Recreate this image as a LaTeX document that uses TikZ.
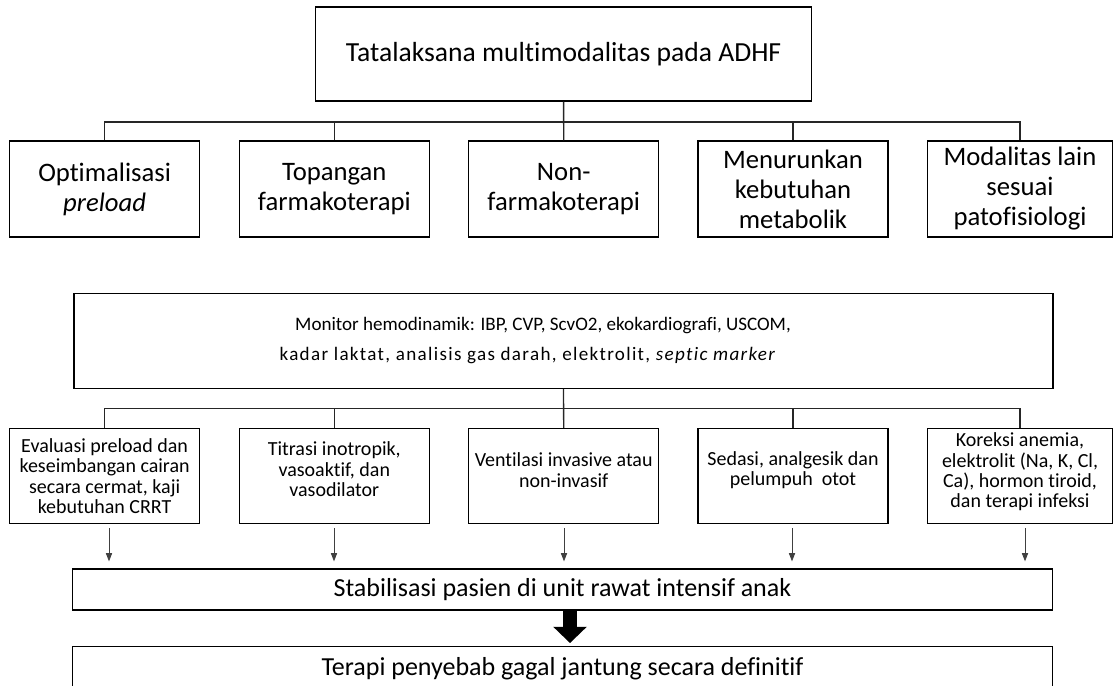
\documentclass[tikz,border=0pt]{standalone}
\usepackage{fontspec}
\setmainfont{Carlito}[Ligatures=NoCommon]
\newfontfamily\trackedfont{Carlito}[Ligatures=NoCommon, LetterSpace=7]
\usetikzlibrary{arrows.meta,calc}
\begin{document}
\begin{tikzpicture}[x=0.75pt,y=-0.75pt,
  box/.style={draw=black, line width=1pt, inner sep=0pt, align=center},
  headbox/.style={box, minimum width=372pt, minimum height=70.5pt, font=\fontsize{20.7}{24}\selectfont},
  catbox/.style={box, minimum width=142.5pt, minimum height=72pt, font=\fontsize{20}{22.5}\selectfont},
  actbox/.style={box, minimum width=142.5pt, minimum height=71.1pt},
  acttext/.style={inner sep=0pt, align=center, font=\fontsize{15}{15.2}\selectfont},
  widebox/.style={box, minimum width=734.7pt, font=\fontsize{19.5}{23}\selectfont},
  link/.style={draw=black!85, line width=1pt},
  thinarrow/.style={draw=black!75, line width=0.6pt, -{Triangle[width=4.7pt,length=6.2pt]}, shorten <=3pt, shorten >=5.25pt},
  bigarrow/.style={draw=black, line width=10pt, -{Triangle[width=24.5pt,length=12.2pt]}, shorten >=2pt}
]
\clip (0,0) rectangle (1113,685);

% title
\node[headbox] (top) at (563.6,54) {Tatalaksana multimodalitas pada ADHF};

% first row: treatment categories
\node[catbox] (k1) at (104.6,189) {Optimalisasi\\\textit{preload}};
\node[catbox] (k2) at (334.3,189) {Topangan\\farmakoterapi};
\node[catbox] (k3) at (563.7,189) {Non-\\farmakoterapi};
\node[catbox] (k4) at (793,189) {Menurunkan\\kebutuhan\\metabolik};
\node[catbox, minimum width=138.5pt] (k5) at (1020,189) {Modalitas lain\\sesuai\\patofisiologi};

\coordinate (bar1) at (0,122);
\draw[link] (top.south) -- (k3.north);
\draw[link] (k1.north) -- (k1.north |- bar1) -- (k5.north |- bar1) -- (k5.north);
\draw[link] (k2.north) -- (k2.north |- bar1);
\draw[link] (k4.north) -- (k4.north |- bar1);

% monitoring
\node[box, minimum width=734.25pt, minimum height=71.25pt, font=\fontsize{14.3}{22.5}\selectfont] (mon) at (563.5,340.8)
  {Monitor hemodinamik: IBP, CVP, ScvO2, ekokardiografi, USCOM,\hspace*{30.75pt}\\
   {\trackedfont kadar laktat, analisis gas darah, elektrolit, \textit{septic marker}}\hspace*{53.25pt}};

% second row: actions
\node[actbox] (a1) at (104.6,476) {};
\node[actbox] (a2) at (334.3,476) {};
\node[actbox] (a3) at (563.7,476) {};
\node[actbox] (a4) at (793,476) {};
\node[actbox, minimum width=138.5pt] (a5) at (1020,476) {};
\node[acttext] (t1) at ([yshift=0pt]a1.center) {Evaluasi preload dan\\keseimbangan cairan\\secara cermat, kaji\\kebutuhan CRRT};
\node[acttext] (t2) at ([yshift=5pt]a2.center) {Titrasi inotropik,\\vasoaktif, dan\\vasodilator};
\node[acttext] (t3) at ([yshift=4.5pt]a3.center) {Ventilasi invasive atau\\non-invasif};
\node[acttext] (t4) at ([yshift=4.5pt]a4.center) {Sedasi, analgesik dan\\pelumpuh\ \ otot};
\node[acttext] (t5) at ([yshift=3pt]a5.center) {Koreksi anemia,\\elektrolit (Na, K, Cl,\\Ca), hormon tiroid,\\dan terapi infeksi};

\coordinate (bar2) at (0,408.3);
\draw[link] (mon.south) -- (a3.north);
\draw[link] (a1.north) -- (a1.north |- bar2) -- (a5.north |- bar2) -- (a5.north);
\draw[link] (a2.north) -- (a2.north |- bar2);
\draw[link] (a4.north) -- (a4.north |- bar2);

% outcome
\node[widebox, minimum height=30.75pt] (stab) at (562.5,589.5) {Stabilisasi pasien di unit rawat intensif anak};
\node[widebox, minimum height=33.5pt, anchor=north] (ter) at (562.5,645.7) {Terapi penyebab gagal jantung secara definitif};

\coordinate (x1) at (109,0);
\coordinate (x2) at (334,0);
\coordinate (x3) at (564,0);
\coordinate (x4) at (792,0);
\coordinate (x5) at (1025,0);
\draw[thinarrow] (a1.south -| x1) -- (stab.north -| x1);
\draw[thinarrow] (a2.south -| x2) -- (stab.north -| x2);
\draw[thinarrow] (a3.south -| x3) -- (stab.north -| x3);
\draw[thinarrow] (a4.south -| x4) -- (stab.north -| x4);
\draw[thinarrow] (a5.south -| x5) -- (stab.north -| x5);

\coordinate (xb) at (570,0);
\draw[bigarrow] (stab.south -| xb) -- (ter.north -| xb);
\end{tikzpicture}
\end{document}
